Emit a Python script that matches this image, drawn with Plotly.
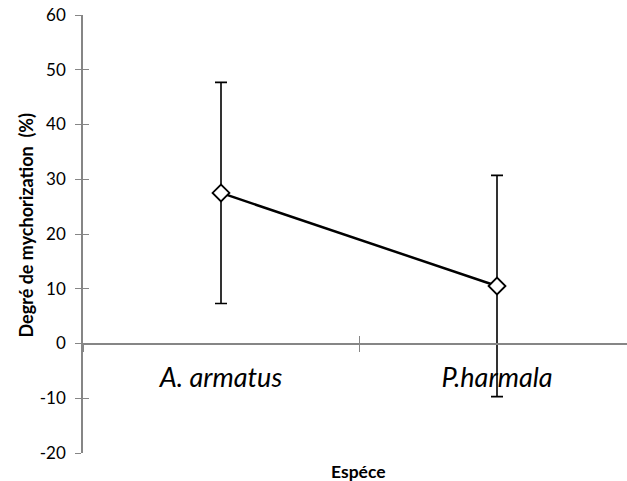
import plotly.graph_objects as go

species = ["A. armatus", "P.harmala"]
mycorrhization = [27.5, 10.5]
error = [20.2, 20.2]
y_ticks = [-20, -10, 0, 10, 20, 30, 40, 50, 60]
y_tick_labels = ["-20", "-10", "0", "10", "20", "30", "40", "50", "60"]

AXIS = "#868686"
FONT = "Lato, 'Open Sans', sans-serif"

fig = go.Figure()
fig.add_trace(go.Scatter(
    x=species, y=mycorrhization, mode="lines+markers",
    line=dict(color="black", width=2.5),
    marker=dict(symbol="diamond", size=13, color="white",
                line=dict(color="black", width=1.8)),
    error_y=dict(type="data", array=error, visible=True,
                 color="black", thickness=1.6, width=6),
    showlegend=False, hoverinfo="skip",
))
# helper trace for the overlay axes (gives crossing tick marks)
fig.add_trace(go.Scatter(
    x=species, y=mycorrhization, mode="markers", xaxis="x2", yaxis="y2",
    marker=dict(size=1, opacity=0), showlegend=False, hoverinfo="skip",
))

fig.update_layout(
    width=627, height=481,
    margin=dict(l=83, r=0, t=15, b=28, autoexpand=False),
    paper_bgcolor="white", plot_bgcolor="white",
    font=dict(family=FONT, color="#000"),
    xaxis=dict(
        type="category", range=[-0.5, 1.471],
        anchor="free", position=0.25, automargin=False,
        showline=True, linecolor=AXIS, linewidth=1.5,
        ticks="outside", tickson="boundaries", ticklen=8, tickcolor=AXIS, tickwidth=1.2,
        showgrid=False, zeroline=False,
        tickfont=dict(size=27, family=FONT, style="italic", color="#000"),
        ticklabelstandoff=10,
    ),
    xaxis2=dict(
        type="category", range=[-0.5, 1.471], overlaying="x",
        anchor="free", position=0.25, automargin=False,
        showline=False, ticks="inside", tickson="boundaries", ticklen=8,
        tickcolor=AXIS, tickwidth=1.2, showticklabels=False,
        showgrid=False, zeroline=False,
    ),
    yaxis=dict(
        range=[-20, 60], tickvals=y_ticks, ticktext=y_tick_labels, automargin=False,
        showline=True, linecolor=AXIS, linewidth=1.5,
        ticks="outside", ticklen=6, tickcolor=AXIS, tickwidth=1.2,
        showgrid=False, zeroline=False,
        tickfont=dict(size=17, family=FONT, color="#000"),
        ticklabelstandoff=6,
    ),
    yaxis2=dict(
        range=[-20, 60], tickvals=y_ticks, overlaying="y", anchor="x",
        side="left", showline=False, ticks="inside", ticklen=6, automargin=False,
        tickcolor=AXIS, tickwidth=1.2, showticklabels=False,
        showgrid=False, zeroline=False,
    ),
    annotations=[
        dict(text="<b>Degré de mychorization&nbsp; (%)</b>", xref="paper", yref="paper",
             x=(26 - 83) / 544, y=(453 - 225.5) / 438, textangle=-90, showarrow=False,
             xanchor="center", yanchor="middle",
             font=dict(size=18, family=FONT, color="#000")),
        dict(text="<b>Espéce</b>", xref="paper", yref="paper",
             x=(358 - 83) / 544, y=-(471 - 453) / 438, showarrow=False,
             xanchor="center", yanchor="middle",
             font=dict(size=17.5, family=FONT, color="#000")),
    ],
)

fig.write_html("out.html", post_script="document.body.style.margin='0';",
               config={"displayModeBar": False})
